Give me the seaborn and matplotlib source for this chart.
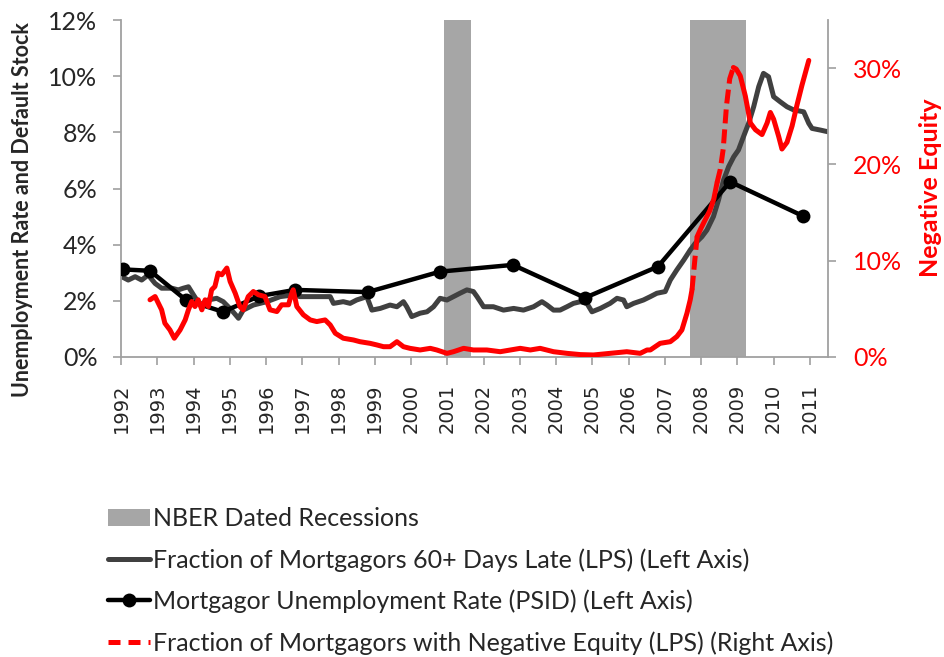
import matplotlib
matplotlib.use("Agg")
import matplotlib.pyplot as plt
import pandas as pd
import seaborn as sns
from matplotlib.lines import Line2D
from matplotlib.patches import Patch

# ---------------------------------------------------------------------------
# Data
# ---------------------------------------------------------------------------
# NBER recession windows (fractional years)
recession_start = [2000.92, 2007.68]
recession_end = [2001.66, 2009.24]

# Fraction of mortgagors 60+ days late (LPS), left axis, percent
delinq_year = [
    1992.02, 1992.20, 1992.39, 1992.57, 1992.75, 1992.94, 1993.12, 1993.40,
    1993.58, 1993.72, 1993.86, 1994.00, 1994.18, 1994.40, 1994.64, 1994.82,
    1995.05, 1995.24, 1995.37, 1995.65, 1996.02, 1996.39, 1996.75, 1996.94,
    1997.22, 1997.58, 1997.77, 1997.86, 1998.13, 1998.32, 1998.50, 1998.64,
    1998.78, 1998.92, 1999.15, 1999.42, 1999.61, 1999.79, 1999.88, 2000.02,
    2000.25, 2000.44, 2000.62, 2000.80, 2000.99, 2001.17, 2001.35, 2001.54,
    2001.72, 2001.82, 2002.00, 2002.27, 2002.55, 2002.83, 2003.10, 2003.38,
    2003.61, 2003.75, 2003.93, 2004.11, 2004.30, 2004.48, 2004.67, 2004.85,
    2004.99, 2005.22, 2005.49, 2005.68, 2005.86, 2005.95, 2006.14, 2006.41,
    2006.60, 2006.78, 2007.01, 2007.15, 2007.33, 2007.52, 2007.70, 2007.84,
    2008.02, 2008.16, 2008.34, 2008.48, 2008.62, 2008.76, 2008.90, 2009.03,
    2009.17, 2009.31, 2009.45, 2009.59, 2009.72, 2009.86, 2010.00, 2010.18,
    2010.37, 2010.55, 2010.83, 2010.97, 2011.06, 2011.29, 2011.50,
]
delinq_rate = [
    2.86, 2.74, 2.86, 2.74, 2.92, 2.62, 2.45, 2.45,
    2.39, 2.45, 2.50, 2.21, 1.85, 2.03, 2.09, 1.97,
    1.67, 1.38, 1.67, 1.85, 1.97, 2.15, 2.21, 2.15,
    2.15, 2.15, 2.15, 1.91, 1.97, 1.91, 2.03, 2.09,
    2.15, 1.67, 1.73, 1.85, 1.79, 1.97, 1.79, 1.44,
    1.56, 1.61, 1.79, 2.09, 2.03, 2.15, 2.27, 2.39,
    2.33, 2.15, 1.79, 1.79, 1.67, 1.73, 1.67, 1.79,
    1.97, 1.85, 1.67, 1.67, 1.79, 1.91, 1.97, 1.91,
    1.61, 1.73, 1.91, 2.09, 2.03, 1.79, 1.91, 2.03,
    2.15, 2.27, 2.33, 2.74, 3.10, 3.45, 3.81, 4.05,
    4.28, 4.52, 5.00, 5.59, 6.30, 6.78, 7.13, 7.37,
    7.85, 8.32, 8.91, 9.63, 10.10, 9.98, 9.27, 9.09,
    8.91, 8.80, 8.73, 8.32, 8.14, 8.08, 8.02,
]

# Mortgagor unemployment rate (PSID), left axis, percent
psid_year = [1992.05, 1992.80, 1993.79, 1994.81, 1995.82, 1996.80, 1998.80,
             2000.80, 2002.81, 2004.80, 2006.81, 2008.80, 2010.81]
psid_rate = [3.12, 3.07, 2.03, 1.61, 2.17, 2.39, 2.31,
             3.04, 3.28, 2.11, 3.22, 6.24, 5.02]

# Fraction of mortgagors with negative equity (LPS), right axis, percent.
# Pieces alternate between densely sampled stretches (solid) and the
# sparse jumps of 2007-2008 (dashed).
negeq_year = [
    [1992.80, 1992.94, 1993.03, 1993.12, 1993.21, 1993.35, 1993.47, 1993.63,
     1993.77, 1993.86, 1993.95, 1994.04, 1994.13, 1994.23, 1994.32, 1994.41,
     1994.50, 1994.59, 1994.68, 1994.78, 1994.92, 1995.01, 1995.15, 1995.28,
     1995.37, 1995.51, 1995.65, 1995.79, 1995.97, 1996.11, 1996.30, 1996.43,
     1996.62, 1996.71, 1996.75, 1996.85, 1997.03, 1997.22, 1997.40, 1997.63,
     1997.77, 1997.91, 1998.13, 1998.41, 1998.59, 1998.87, 1999.06, 1999.24,
     1999.42, 1999.61, 1999.79, 1999.97, 2000.25, 2000.53, 2000.71, 2000.99,
     2001.17, 2001.45, 2001.72, 2002.09, 2002.46, 2003.01, 2003.29, 2003.56,
     2003.93, 2004.30, 2004.67, 2005.03, 2005.49, 2005.95, 2006.32, 2006.51,
     2006.60, 2006.87, 2007.15, 2007.33, 2007.47, 2007.61, 2007.70, 2007.75],
    [2007.75, 2007.82, 2007.89],
    [2007.89, 2008.00, 2008.12, 2008.24, 2008.35, 2008.44],
    [2008.44, 2008.53, 2008.61, 2008.70, 2008.79, 2008.89],
    [2008.89, 2008.97, 2009.08, 2009.22, 2009.36, 2009.50, 2009.68, 2009.82,
     2009.91, 2010.00, 2010.14, 2010.23, 2010.37, 2010.51, 2010.64, 2010.78,
     2010.97],
]
negeq_share = [
    [5.94, 6.28, 5.59, 4.90, 3.51, 2.81, 1.95, 2.81,
     3.85, 4.90, 5.76, 5.24, 5.94, 4.90, 5.94, 5.24,
     6.98, 7.32, 8.72, 8.54, 9.24, 7.84, 6.63, 5.24,
     4.90, 6.28, 6.80, 6.46, 6.28, 4.90, 4.72, 5.42,
     5.42, 6.63, 6.98, 5.24, 4.38, 3.85, 3.68, 3.85,
     3.33, 2.47, 1.95, 1.77, 1.59, 1.42, 1.25, 1.07,
     1.07, 1.59, 1.07, 0.90, 0.73, 0.90, 0.73, 0.38,
     0.55, 0.90, 0.73, 0.73, 0.55, 0.90, 0.73, 0.90,
     0.55, 0.38, 0.25, 0.21, 0.38, 0.55, 0.38, 0.73,
     0.73, 1.42, 1.59, 2.12, 2.81, 4.55, 5.94, 7.00],
    [7.00, 9.80, 12.50],
    [12.50, 13.40, 14.30, 15.20, 16.40, 18.10],
    [18.10, 19.50, 21.60, 26.10, 28.90, 30.07],
    [30.07, 29.90, 29.20, 27.10, 24.30, 23.60, 23.10, 24.30,
     25.40, 24.70, 22.90, 21.60, 22.30, 24.00, 26.10, 28.20,
     30.80],
]
negeq_kind = ["solid", "dashed", "solid", "dashed", "solid"]

year_ticks = list(range(1992, 2012))
left_ticks = [0, 2, 4, 6, 8, 10, 12]
right_ticks = [0, 10, 20, 30]

legend_labels = [
    "NBER Dated Recessions",
    "Fraction of Mortgagors 60+ Days Late (LPS) (Left Axis)",
    "Mortgagor Unemployment Rate (PSID) (Left Axis)",
    "Fraction of Mortgagors with Negative Equity (LPS) (Right Axis)",
]

# ---------------------------------------------------------------------------
# Styling
# ---------------------------------------------------------------------------
sns.set_style("white")
plt.rcParams["font.family"] = ["Lato", "DejaVu Sans"]

REC_COLOR = "#a6a6a6"
LATE_COLOR = "#404040"
UNEMP_COLOR = "#000000"
NEG_COLOR = "#ff0000"
SPINE_COLOR = "#a0a0a0"
DASH = (2.8, 1.2)

W, H = 945, 657
fig = plt.figure(figsize=(W / 100, H / 100), dpi=100)
x0, x1, y_top, y_bot = 121, 828, 20, 357
ax = fig.add_axes([x0 / W, 1 - y_bot / H, (x1 - x0) / W, (y_bot - y_top) / H])
ax2 = ax.twinx()

# Recession shading
for s, e in zip(recession_start, recession_end):
    ax.axvspan(s, e, color=REC_COLOR, lw=0, zorder=0)

# Left-axis series
late_df = pd.DataFrame({"year": delinq_year, "rate": delinq_rate})
sns.lineplot(data=late_df, x="year", y="rate", ax=ax, color=LATE_COLOR,
             lw=3.6, estimator=None, sort=False, zorder=2)

psid_df = pd.DataFrame({"year": psid_year, "rate": psid_rate})
sns.lineplot(data=psid_df, x="year", y="rate", ax=ax, color=UNEMP_COLOR,
             lw=3.2, marker="o", markersize=10, markeredgewidth=0,
             estimator=None, sort=False, zorder=3)

# Right-axis series
rows = []
for i, (ys, vs, k) in enumerate(zip(negeq_year, negeq_share, negeq_kind)):
    for y, v in zip(ys, vs):
        rows.append({"year": y, "share": v, "piece": i, "kind": k})
neg_df = pd.DataFrame(rows)
sns.lineplot(data=neg_df, x="year", y="share", ax=ax2, units="piece",
             style="kind", dashes={"solid": "", "dashed": DASH},
             color=NEG_COLOR, lw=3.6, estimator=None, sort=False,
             legend=False)
for ln in ax2.get_lines():
    ln.set_solid_capstyle("round")
    ln.set_solid_joinstyle("round")

# Axes limits and ticks
ax.set_xlim(1992, 2011.5)
ax.set_ylim(0, 12)
ax2.set_ylim(0, 35)

ax.set_xticks(year_ticks)
ax.set_xticklabels([str(y) for y in year_ticks], rotation=90,
                   fontfamily="DejaVu Sans", fontsize=14)
ax.set_yticks(left_ticks)
ax.set_yticklabels([f"{v}%" for v in left_ticks], fontsize=18)
ax2.set_yticks(right_ticks)
ax2.set_yticklabels([f"{v}%" for v in right_ticks], fontsize=18,
                    color=NEG_COLOR)

ax.set_xlabel("")
ax.set_ylabel("")
ax2.set_ylabel("")

ax.tick_params(axis="x", bottom=True, direction="out", length=6, width=1.2,
               color=SPINE_COLOR, pad=13)
ax.tick_params(axis="y", left=True, direction="out", length=6, width=1.2,
               color=SPINE_COLOR, pad=11)
ax2.tick_params(axis="y", right=True, direction="out", length=6, width=1.2,
                color=SPINE_COLOR, pad=12)

for a in (ax, ax2):
    a.spines["top"].set_visible(False)
    for sp in a.spines.values():
        sp.set_color(SPINE_COLOR)
        sp.set_linewidth(1.3)
ax.spines["right"].set_visible(False)
ax2.spines["left"].set_visible(False)
ax2.spines["bottom"].set_visible(False)
ax.grid(False)
ax2.grid(False)

# Axis titles
fig.text(22.5 / W, 1 - 210 / H, "Unemployment Rate and Default Stock",
         rotation=90, ha="center", va="center", fontsize=15.5,
         fontweight="bold")
fig.text(931 / W, 1 - 188 / H, "Negative Equity", rotation=90,
         ha="center", va="center", fontsize=18, fontweight="bold",
         color=NEG_COLOR)

# Legend
handles = [
    Patch(facecolor=REC_COLOR, edgecolor="none"),
    Line2D([], [], color=LATE_COLOR, lw=3.6),
    Line2D([], [], color=UNEMP_COLOR, lw=3.2, marker="o", markersize=10,
           markeredgewidth=0),
    Line2D([], [], color=NEG_COLOR, lw=3.6, dashes=(2.4, 1.6)),
]
fig.legend(handles, legend_labels, loc="upper left",
           bbox_to_anchor=(108 / W, 1 - 507 / H), frameon=False,
           fontsize=18, handlelength=1.7, handletextpad=0.12,
           labelspacing=0.72, borderpad=0, borderaxespad=0)

fig.savefig("out.png", dpi=100)
